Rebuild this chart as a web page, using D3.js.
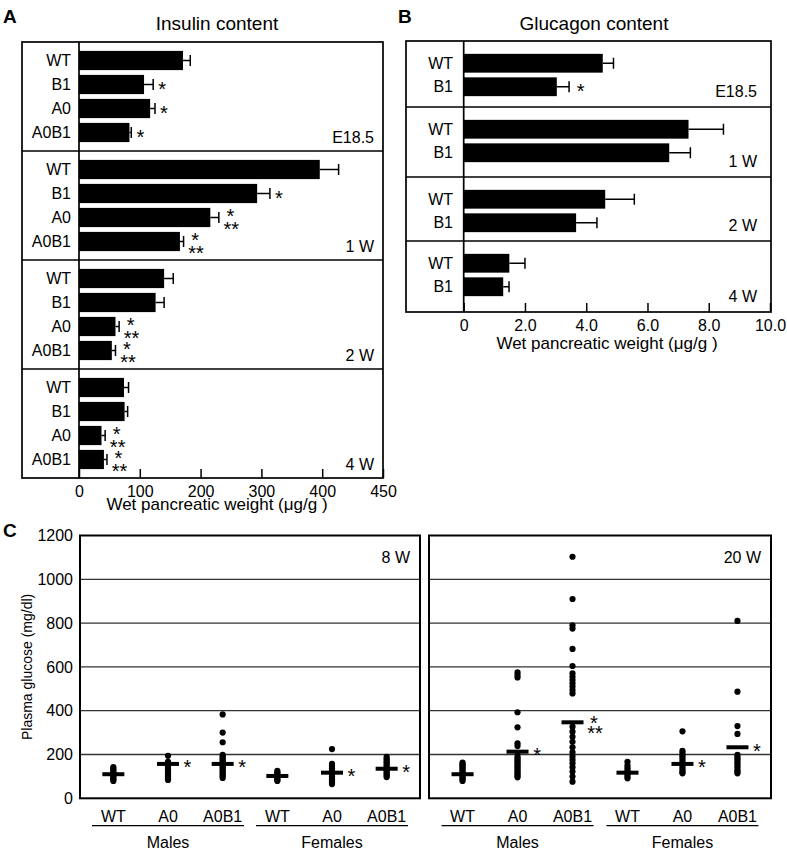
<!DOCTYPE html>
<html><head><meta charset="utf-8">
<script src="https://cdn.jsdelivr.net/npm/d3@7"></script>
<style>
body{margin:0;background:#fff}
svg text{font-family:"Liberation Sans",Arial,Helvetica,sans-serif;fill:#000}
</style>
</head><body>
<svg id="chart" width="787" height="852"></svg>
<script>
// ---------- Panel A: insulin content (µg/g wet pancreas) ----------
const insulinPeriods = ["E18.5", "1 W", "2 W", "4 W"];
const insulinGenotypes = ["WT", "B1", "A0", "A0B1"];
const insulinMean = [
  [171, 107, 117, 83],
  [396, 293, 216, 166],
  [140, 126, 60, 54],
  [74, 75, 37, 41]
];
const insulinErr = [
  [12, 15, 8, 3],
  [31, 21, 14, 6],
  [15, 14, 6, 6],
  [7.5, 5, 6, 5]
];
const insulinSig = [
  ["", "*", "*", "*"],
  ["", "*", "*/**", "*/**"],
  ["", "", "*/**", "*/**"],
  ["", "", "*/**", "*/**"]
];
const insulinTicks = [0, 100, 200, 300, 400, 500];
const insulinTickLabels = ["0", "100", "200", "300", "400", "450"];

// ---------- Panel B: glucagon content ----------
const glucagonPeriods = ["E18.5", "1 W", "2 W", "4 W"];
const glucagonGenotypes = ["WT", "B1"];
const glucagonMean = [
  [4.54, 3.04],
  [7.34, 6.71],
  [4.62, 3.67],
  [1.49, 1.29]
];
const glucagonErr = [
  [0.35, 0.40],
  [1.14, 0.69],
  [0.95, 0.68],
  [0.51, 0.19]
];
const glucagonSig = [["", "*"], ["", ""], ["", ""], ["", ""]];
const glucagonTicks = [0, 2, 4, 6, 8, 10];
const glucagonTickLabels = ["0", "2.0", "4.0", "6.0", "8.0", "10.0"];

// ---------- Panel C: plasma glucose (mg/dl) ----------
const glucoseGroupKeys = ["M-WT", "M-A0", "M-A0B1", "F-WT", "F-A0", "F-A0B1"];
const glucoseGroupLabels = ["WT", "A0", "A0B1", "WT", "A0", "A0B1"];
const glucoseSexes = ["Males", "Females"];
const glucoseTicks = [0, 200, 400, 600, 800, 1000, 1200];
const glucoseAges = ["8 W", "20 W"];

const glucose8W = [
  [143, 136, 129, 122, 116, 110, 104, 98, 92, 86, 79],
  [194, 166, 160, 154, 147, 140, 132, 124, 116, 108, 100, 92, 84],
  [383, 300, 256, 198, 190, 182, 174, 166, 158, 150, 142, 134, 126, 118, 110, 102, 93],
  [125, 119, 113, 107, 101, 95, 89, 84, 79],
  [225, 157, 150, 143, 136, 129, 122, 115, 108, 101, 94, 87, 80, 72, 65],
  [189, 181, 173, 165, 157, 149, 141, 133, 125, 117, 110, 103, 97]
];
const glucoseMean8W = [110, 157, 157, 102, 117, 135];
const glucoseSig8W = ["", "*", "*", "", "*", "*"];

const glucose20W = [
  [163, 156, 149, 142, 135, 128, 121, 114, 107, 100, 93, 86, 79],
  [575, 563, 552, 393, 324, 251, 239, 208, 190, 182, 174, 166, 158, 150, 142, 134, 126, 118, 110, 103, 96],
  [1103, 910, 790, 775, 682, 604, 571, 555, 540, 525, 510, 494, 479, 327, 304, 281, 258, 233, 210, 190, 175, 160, 142, 122, 99, 76],
  [167, 152, 141, 130, 120, 110, 100, 91],
  [306, 217, 207, 197, 187, 177, 167, 157, 147, 137, 127, 120, 114],
  [810, 487, 330, 294, 198, 188, 178, 168, 158, 148, 138, 128, 120, 114]
];
const glucoseMean20W = [110, 213, 347, 117, 157, 233];
const glucoseSig20W = ["", "*", "*/**", "", "*", "*"];

// ================= drawing =================
const svg = d3.select("#chart");
const FS = 16;
const AST = 20;          // asterisk font size
const AST_OFF = 11.5;    // baseline offset so the asterisk ink is centred

function text(g, x, y, s, anchor, size, weight) {
  return g.append("text").attr("x", x).attr("y", y)
    .attr("text-anchor", anchor || "start")
    .attr("font-size", size || FS)
    .attr("font-weight", weight || "normal")
    .text(s);
}
function line(g, x1, y1, x2, y2, w, col) {
  return g.append("line").attr("x1", x1).attr("y1", y1).attr("x2", x2).attr("y2", y2)
    .attr("stroke", col || "#000").attr("stroke-width", w || 1.5);
}
// significance asterisks centred at (x, cy); "*/**" is stacked in one text element
function sigMark(g, x, cy, code, spread) {
  if (!code) return;
  const t = g.append("text").attr("text-anchor", "middle").attr("font-size", AST);
  if (code === "*") {
    t.attr("x", x).attr("y", cy + AST_OFF).text("*");
  } else {
    const parts = code.split("/");
    t.append("tspan").attr("x", x).attr("y", cy - spread[0] + AST_OFF).text(parts[0]);
    t.append("tspan").attr("x", x + 1).attr("y", cy + spread[1] + AST_OFF).text(parts[1]);
  }
}
function styleAxis(g, size) {
  g.select(".domain").remove();
  g.selectAll(".tick line").attr("stroke", "#000").attr("stroke-width", 1.5);
  g.selectAll(".tick text").attr("font-size", size).attr("fill", "#000")
    .attr("font-family", '"Liberation Sans", Arial, Helvetica, sans-serif');
}

// ---------------- Panel A ----------------
(function () {
  const box = { l: 22, r: 383, t: 42, b: 478 };
  const g = svg.append("g");
  const x = d3.scaleLinear().domain([0, 500]).range([79, 383]);
  const sec = d3.scaleBand().domain(insulinPeriods).range([box.t, box.b]);

  text(g, 3, 23, "A", "start", 19, "bold");
  text(g, 217, 30, "Insulin content", "middle", 19);

  insulinPeriods.forEach((p, i) => {
    const s = sec(p);
    const yb = d3.scaleBand().domain(insulinGenotypes)
      .range([s + 6.5, s + 102.5]).paddingInner(0.2).paddingOuter(0.1);
    insulinGenotypes.forEach((gn, j) => {
      const v = insulinMean[i][j], e = insulinErr[i][j];
      const y0 = yb(gn), h = yb.bandwidth(), cy = y0 + h / 2;
      g.append("rect").attr("x", x(0)).attr("y", y0)
        .attr("width", x(v) - x(0)).attr("height", h).attr("fill", "#000");
      line(g, x(v), cy, x(v + e), cy, 1.5);
      line(g, x(v + e), cy - 5.5, x(v + e), cy + 5.5, 1.5);
      text(g, 71, cy + 5.7, gn, "end", FS);
      const code = insulinSig[i][j];
      sigMark(g, x(v + e) + (code === "*" ? 9 : 11.5), cy, code, [6.5, 6.5]);
    });
    text(g, 374, s + sec.bandwidth() - 8, p, "end", FS);
    if (i > 0) line(g, box.l, s, box.r, s, 1.6);
  });

  g.append("rect").attr("x", box.l).attr("y", box.t)
    .attr("width", box.r - box.l).attr("height", box.b - box.t)
    .attr("fill", "none").attr("stroke", "#000").attr("stroke-width", 1.7);
  line(g, x(0), box.t, x(0), box.b, 1.7);

  const ax = g.append("g").attr("transform", `translate(0,${box.b})`)
    .call(d3.axisBottom(x).tickValues(insulinTicks)
      .tickFormat((d, i) => insulinTickLabels[i])
      .tickSizeInner(-9).tickSizeOuter(0).tickPadding(7.2));
  styleAxis(ax, FS);

  text(g, 217, 510, "Wet pancreatic weight (\u03bcg/g )", "middle", 17);
})();

// ---------------- Panel B ----------------
(function () {
  const box = { l: 406, r: 771, t: 41, b: 312 };
  const sectionHeights = [66, 70, 64, 71];
  const g = svg.append("g");
  const x = d3.scaleLinear().domain([0, 10]).range([463.7, 770]);

  text(g, 398, 23, "B", "start", 19, "bold");
  text(g, 594, 30, "Glucagon content", "middle", 19);

  let s = box.t;
  glucagonPeriods.forEach((p, i) => {
    const hgt = sectionHeights[i];
    const yb = d3.scaleBand().domain(glucagonGenotypes)
      .range([s + 10.5, s + 57.5]).paddingInner(0.2).paddingOuter(0.1);
    glucagonGenotypes.forEach((gn, j) => {
      const v = glucagonMean[i][j], e = glucagonErr[i][j];
      const y0 = yb(gn), h = yb.bandwidth(), cy = y0 + h / 2;
      g.append("rect").attr("x", x(0)).attr("y", y0)
        .attr("width", x(v) - x(0)).attr("height", h).attr("fill", "#000");
      line(g, x(v), cy, x(v + e), cy, 1.5);
      line(g, x(v + e), cy - 5.5, x(v + e), cy + 5.5, 1.5);
      text(g, 453, cy + 5.7, gn, "end", FS);
      sigMark(g, x(v + e) + 11.5, cy, glucagonSig[i][j], [6.5, 6.5]);
    });
    text(g, 757, s + hgt - 10, p, "end", FS);
    if (i > 0) line(g, box.l, s, box.r, s, 1.6);
    s += hgt;
  });

  g.append("rect").attr("x", box.l).attr("y", box.t)
    .attr("width", box.r - box.l).attr("height", box.b - box.t)
    .attr("fill", "none").attr("stroke", "#000").attr("stroke-width", 1.7);
  line(g, x(0), box.t, x(0), box.b, 1.7);

  const ax = g.append("g").attr("transform", `translate(0,${box.b})`)
    .call(d3.axisBottom(x).tickValues(glucagonTicks)
      .tickFormat((d, i) => glucagonTickLabels[i])
      .tickSizeInner(-9).tickSizeOuter(0).tickPadding(7.6));
  styleAxis(ax, FS);

  text(g, 607, 349, "Wet pancreatic weight (\u03bcg/g )", "middle", 17);
})();

// ---------------- Panel C ----------------
(function () {
  const g = svg.append("g");
  const top = 535.5, bottom = 798.3;
  const y = d3.scaleLinear().domain([0, 1200]).range([bottom, top]);

  text(g, 3, 537, "C", "start", 19, "bold");
  g.append("text").attr("transform", `translate(32,${(top + bottom) / 2}) rotate(-90)`)
    .attr("text-anchor", "middle").attr("font-size", 14).text("Plasma glucose (mg/dl)");

  const panels = [
    { l: 80, r: 420, age: glucoseAges[0], data: glucose8W, mean: glucoseMean8W, sig: glucoseSig8W, yAxis: true },
    { l: 429, r: 771, age: glucoseAges[1], data: glucose20W, mean: glucoseMean20W, sig: glucoseSig20W, yAxis: false }
  ];

  panels.forEach(P => {
    const pg = g.append("g");
    const x = d3.scalePoint().domain(glucoseGroupKeys).range([P.l, P.r]).padding(0.61);

    // grid lines
    glucoseTicks.slice(1, -1).forEach(t => line(pg, P.l, y(t), P.r, y(t), 1.3, "#333"));

    // dots
    glucoseGroupKeys.forEach((k, i) => {
      pg.append("g").selectAll("circle").data(P.data[i]).join("circle")
        .attr("cx", x(k)).attr("cy", d => y(d)).attr("r", 3.1).attr("fill", "#000");
    });
    // mean bars + significance
    glucoseGroupKeys.forEach((k, i) => {
      const cy = y(P.mean[i]);
      pg.append("rect").attr("x", x(k) - 11).attr("y", cy - 2)
        .attr("width", 22).attr("height", 4).attr("fill", "#000");
      const code = P.sig[i];
      if (code === "*") sigMark(pg, x(k) + 19.5, cy - 1, code);
      else sigMark(pg, x(k) + 21.5, cy, code, [3.5, 6]);
    });

    // frame
    pg.append("rect").attr("x", P.l).attr("y", top).attr("width", P.r - P.l)
      .attr("height", bottom - top).attr("fill", "none")
      .attr("stroke", "#000").attr("stroke-width", 2);

    text(pg, P.r - 10, 563, P.age, "end", FS);

    // category labels
    glucoseGroupKeys.forEach((k, i) => text(pg, x(k), 821.5, glucoseGroupLabels[i], "middle", FS));
    // sex groups
    glucoseSexes.forEach((sx, si) => {
      const mid = x(glucoseGroupKeys[si * 3 + 1]);
      line(pg, mid - 76, 825.7, mid + 76, 825.7, 1.3);
      text(pg, mid, 848, sx, "middle", FS);
    });

    if (P.yAxis) {
      const ax = pg.append("g").attr("transform", `translate(${P.l},0)`)
        .call(d3.axisLeft(y).tickValues(glucoseTicks).tickFormat(d3.format("d"))
          .tickSize(0).tickPadding(7));
      styleAxis(ax, FS);
    }
  });
})();
</script>
</body></html>
